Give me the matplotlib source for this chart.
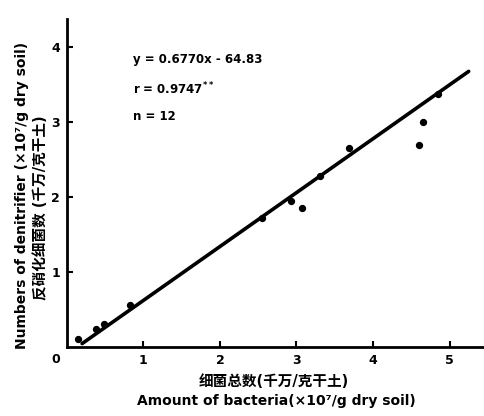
import matplotlib
matplotlib.use("Agg")
import matplotlib.pyplot as plt
import numpy as np

plt.rcParams['font.family'] = ['DejaVu Sans', 'Noto Sans CJK SC']

# data
bacteria = [0.15, 0.38, 0.49, 0.82, 2.55, 2.93, 3.07, 3.31, 3.69, 4.60, 4.65, 4.85]
denitrifier = [0.11, 0.25, 0.31, 0.56, 1.72, 1.95, 1.85, 2.28, 2.65, 2.69, 3.00, 3.37]
line_x = [0.2, 5.25]
line_y = [0.05, 3.67]
x_ticks = [1, 2, 3, 4, 5]
y_ticks = [1, 2, 3, 4]
eq_lines = ["y = 0.6770x - 64.83", "r = 0.9747$^{\\mathbf{**}}$", "n = 12"]

fig = plt.figure(figsize=(4.84, 4.16), dpi=100)
ax = fig.add_axes([0.138, 0.165, 0.862, 0.79])
ax.plot(line_x, line_y, color='black', lw=2.6, solid_capstyle='round')
ax.scatter(bacteria, denitrifier, s=18, color='black', zorder=3)

ax.set_xlim(0, 5.45)
ax.set_ylim(0, 4.37)
for s in ['top', 'right']:
    ax.spines[s].set_visible(False)
for s in ['left', 'bottom']:
    ax.spines[s].set_linewidth(2.0)
ax.set_xticks(x_ticks)
ax.set_yticks(y_ticks)
ax.set_xticklabels([str(t) for t in x_ticks], fontweight='bold', fontsize=9)
ax.set_yticklabels([str(t) for t in y_ticks], fontweight='bold', fontsize=9)
ax.tick_params(direction='in', length=4, width=1.5, pad=5)
ax.text(-0.15, -0.08, "0", fontweight='bold', fontsize=9, ha='center', va='top')

ys = [3.83, 3.44, 3.07]
for t, y in zip(eq_lines, ys):
    ax.text(0.86, y, t, fontweight='bold', fontsize=8.5, va='center', ha='left')

fig.text(0.565, 0.083, "细菌总数(千万/克干土)", ha='center', va='center', fontsize=10.5, fontweight='bold')
fig.text(0.57, 0.037, "Amount of bacteria(×10⁷/g dry soil)", ha='center', va='center', fontsize=10, fontweight='bold')
fig.text(0.045, 0.53, "Numbers of denitrifier (×10⁷/g dry soil)", rotation=90, ha='center', va='center', fontsize=10, fontweight='bold')
fig.text(0.084, 0.5, "反硝化细菌数 (千万/克干土)", rotation=90, ha='center', va='center', fontsize=10.5, fontweight='bold')

fig.savefig("out.png", dpi=100)
